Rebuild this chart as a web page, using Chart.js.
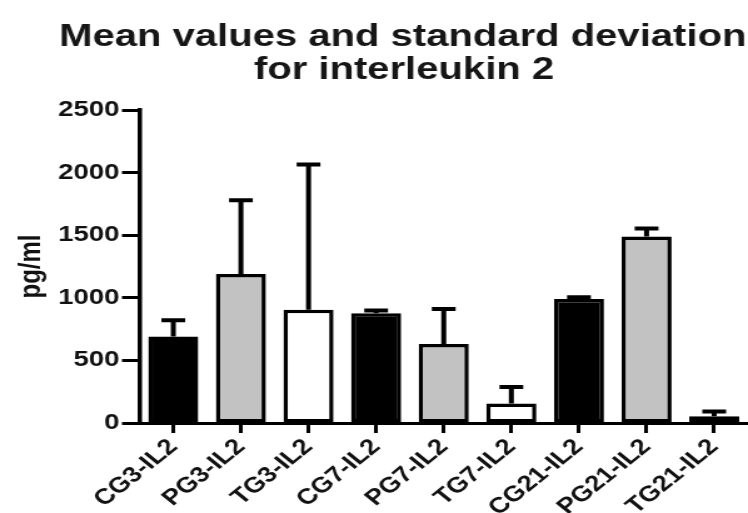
<!DOCTYPE html>
<html>
<head>
<meta charset="utf-8">
<script src="https://cdn.jsdelivr.net/npm/chart.js@4"></script>
<style>
  html, body { margin: 0; padding: 0; background: #fff; }
  #c { width: 748px; height: 513px; }
</style>
</head>
<body>
<!-- drawn narrower, then stretched sideways like the original picture -->
<canvas id="c" width="598" height="513" style="width:748px;height:513px"></canvas>
<script>
  var groups = ["CG3-IL2", "PG3-IL2", "TG3-IL2", "CG7-IL2", "PG7-IL2", "TG7-IL2", "CG21-IL2", "PG21-IL2", "TG21-IL2"];
  var meanValues = [690, 1190, 905, 876, 630, 155, 991, 1490, 54];
  var sdValues = [130, 590, 1160, 22, 280, 133, 14, 64, 37];
  var yTicks = [0, 500, 1000, 1500, 2000, 2500];
  var titleLines = ["Mean values and standard deviation", "for interleukin 2"];

  var barColors = ["#000000", "#c2c2c2", "#ffffff", "#000000", "#c2c2c2", "#ffffff", "#000000", "#c2c2c2", "#ffffff"];
  var fontName = '"Liberation Sans", Arial, Helvetica, sans-serif';

  // error bars: only the upper half, as in the Prism plot
  const errorBars = {
    id: "errorBars",
    afterDatasetsDraw(chart) {
      const ctx = chart.ctx;
      const yScale = chart.scales.y;
      const meta = chart.getDatasetMeta(0);
      ctx.save();
      ctx.strokeStyle = "#000";
      ctx.lineWidth = 4;
      meta.data.forEach(function (bar, i) {
        const top = yScale.getPixelForValue(meanValues[i] + sdValues[i]);
        ctx.beginPath();
        ctx.moveTo(bar.x, bar.y);
        ctx.lineTo(bar.x, top);
        ctx.moveTo(bar.x - 9.5, top);
        ctx.lineTo(bar.x + 9.5, top);
        ctx.stroke();
      });
      ctx.restore();
    }
  };

  // title sits off-centre in the original, so it is drawn here
  const chartTitle = {
    id: "chartTitle",
    afterDraw(chart) {
      const ctx = chart.ctx;
      ctx.save();
      ctx.fillStyle = "#161616";
      ctx.font = "bold 32px " + fontName;
      ctx.textAlign = "center";
      ctx.textBaseline = "alphabetic";
      ctx.fillText(titleLines[0], 322, 46);
      ctx.fillText(titleLines[1], 323, 79);
      ctx.restore();
    }
  };

  new Chart("c", {
    type: "bar",
    data: {
      labels: groups,
      datasets: [{
        data: meanValues,
        backgroundColor: barColors,
        borderColor: "#000",
        borderWidth: 3.5,
        borderSkipped: false,
        barPercentage: 0.74,
        categoryPercentage: 1.0
      }]
    },
    plugins: [errorBars, chartTitle],
    options: {
      responsive: false,
      animation: false,
      devicePixelRatio: 1,
      layout: { padding: { top: 110, right: 0, bottom: 0, left: 0 } },
      plugins: {
        legend: { display: false },
        title: { display: false },
        tooltip: { enabled: false }
      },
      scales: {
        x: {
          grid: {
            offset: false,
            drawOnChartArea: false,
            drawTicks: true,
            tickLength: 10,
            tickWidth: 3,
            tickColor: "#000"
          },
          border: { display: true, color: "#000", width: 3 },
          ticks: {
            color: "#111",
            font: { family: fontName, size: 22, weight: "bold" },
            minRotation: 45,
            maxRotation: 45,
            padding: 1
          },
          afterFit: function (s) { s.height = 90; }
        },
        y: {
          min: 0,
          max: 2500,
          afterBuildTicks: function (s) {
            s.ticks = yTicks.map(function (v) { return { value: v }; });
          },
          grid: {
            drawOnChartArea: false,
            drawTicks: true,
            tickLength: 14,
            tickWidth: 3,
            tickColor: "#000"
          },
          border: { display: true, color: "#000", width: 3.5 },
          ticks: {
            color: "#111",
            font: { family: fontName, size: 22, weight: "bold" },
            padding: 2,
            callback: function (v) { return String(v); }
          },
          title: {
            display: true,
            text: "pg/ml",
            color: "#111",
            font: { family: fontName, size: 24, weight: "bold" },
            padding: { top: 11, bottom: 0 }
          },
          afterFit: function (s) { s.width = 111.5; }
        }
      }
    }
  });
</script>
</body>
</html>
